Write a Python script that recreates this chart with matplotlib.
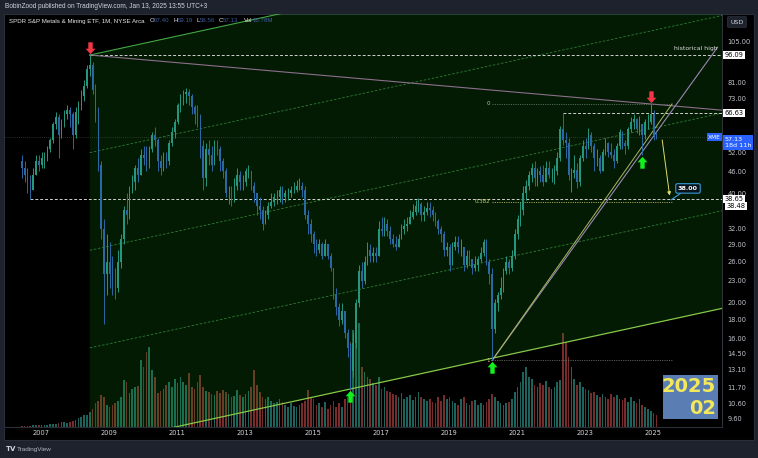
import numpy as np
import matplotlib.pyplot as plt
from matplotlib.path import Path
from matplotlib.patches import Rectangle

# XME monthly candles, May 2006 .. Jan 2025
closes = [
    47, 45, 43, 41, 45, 49, 48, 50,                                   # 2006 May-Dec
    50, 53, 56, 62, 65, 58, 63, 66, 68, 66, 58, 67,                   # 2007
    70, 74, 79, 88, 90, 77, 66, 48, 32, 24, 26, 24,                   # 2008
    23, 22, 26, 30, 36, 35, 41, 43, 47, 45, 51, 50,                   # 2009
    49, 53, 58, 56, 49, 47, 51, 49, 55, 59, 63, 70,                   # 2010
    73, 75, 76, 74, 69, 66, 65, 54, 44, 53, 51, 48,                   # 2011
    54, 53, 49, 46, 40, 40, 39, 42, 45, 43, 43, 46,                   # 2012
    46, 42, 40, 37, 36, 33, 35, 37, 38, 39, 39, 41,                   # 2013
    39, 40, 40, 41, 41, 42, 42, 41, 35, 33, 31, 29,                   # 2014
    28, 29, 27, 29, 27, 25, 21, 19.5, 18, 19, 16.5, 15,               # 2015
    13, 15.5, 20, 24.5, 23, 26, 28, 27, 27.5, 27, 32, 31.5,           # 2016
    33, 31.5, 30, 29, 28.5, 30, 32, 32.5, 33, 34.5, 35.5, 37,         # 2017
    37.5, 35, 35.5, 36.5, 36, 35, 33.5, 32, 31, 28, 28.5, 25.5,       # 2018
    28.5, 29.5, 28.5, 28.5, 25.5, 27, 26.5, 25, 25.5, 26.5, 27.5, 29.5,  # 2019
    26, 24, 17, 20, 21, 22, 24.5, 26, 25, 27, 31, 34,                 # 2020
    36, 40, 42, 45, 47, 44, 46, 45, 43, 47, 45, 45,                   # 2021
    46, 50, 60, 56, 55, 45, 45.5, 46.5, 43, 50, 54, 53,               # 2022
    58, 54, 50, 50, 46, 52, 55, 52, 51, 49, 54, 59,                   # 2023
    55, 54, 60, 63, 64, 60, 62, 58, 63, 63, 66, 57.4,                 # 2024
    57.13,                                                            # 2025 Jan
]
highs = [
    51, 49, 47, 45, 47, 51, 51, 52,
    52, 54, 57, 63, 67, 66, 64, 68, 70, 69, 67, 69,
    72, 77, 82, 90, 96.09, 92, 80, 69, 49, 34, 31, 29.5,
    27, 25, 28, 31, 37, 40, 42, 45, 48, 50, 53, 54,
    54, 54, 59, 61, 57, 51, 52, 52, 56, 61, 64, 71,
    75, 77, 78, 77.5, 75, 70, 70, 66, 56, 55, 56, 54,
    56, 56, 54, 50, 47, 42, 42, 44, 47, 46, 45, 47,
    48, 46, 43, 40, 39, 37, 36, 38, 40, 40, 41, 42,
    42, 41, 41.5, 42, 43, 43.5, 44, 43, 42, 36, 34, 31.5,
    30, 30, 29.5, 30, 29, 27.5, 25, 22, 20, 20, 19, 17,
    15.5, 16.5, 20.5, 25.5, 26, 27, 29.5, 29, 28.5, 28.5, 33.5, 34.5,
    34.5, 34, 32.5, 31, 30.5, 31, 33, 34, 34.5, 36, 37.5, 38.5,
    38.9, 38, 37, 38, 38, 37, 35.5, 34, 32.5, 31.5, 29.5, 29,
    29.5, 30.5, 30.5, 30, 28.5, 28, 28, 26.5, 27, 27, 28.5, 30,
    30, 26.5, 25, 20.5, 21.5, 23.5, 25, 27, 26.5, 28, 32, 35,
    38, 42, 43.5, 46, 48.5, 49, 47, 47.5, 48, 49, 49, 47,
    48, 52, 61.5, 66.63, 59, 57, 47, 51, 48.5, 51, 56, 57,
    60.5, 59, 55, 53, 51, 53, 57, 55.5, 55, 53, 55, 60,
    59.5, 56, 61, 65, 66, 64.5, 65.5, 62, 64, 66, 70.5, 68,
    59.19,
]
lows = [
    44, 43, 40, 38.65, 41, 45, 46, 47,
    47, 49, 52, 55, 60, 50, 57, 61, 64, 61, 53, 57,
    62, 68, 72, 78, 84, 75, 63, 46, 30, 17.5, 21, 22,
    21, 20.5, 21.5, 25, 29, 33, 34, 40, 41, 43, 45, 48,
    46, 47, 52, 54, 46, 45, 46, 47, 48, 54, 57, 62,
    67, 70, 71, 70, 66, 62, 61, 50, 41, 42, 48, 46,
    48, 51, 46, 44, 39, 37.5, 37, 38, 41, 41, 41, 42,
    44, 41, 38, 35, 34, 31.8, 33, 34, 36.5, 37, 37.5, 38,
    37.5, 38, 38.5, 39, 40, 40.5, 41, 39, 34, 31, 29.5, 27.5,
    27, 27.5, 26.5, 27, 26.5, 24.5, 20.5, 18.5, 17.3, 17.5, 16, 14.2,
    11.6, 12.5, 15, 19.5, 22, 22.5, 25.5, 26, 26, 26, 27, 30.5,
    30.5, 30.5, 29, 28.5, 28, 28.5, 30, 31, 31.5, 33, 34, 35,
    35.5, 33.5, 33.5, 35, 34.5, 33.5, 32.5, 31, 29.5, 27, 27, 24.5,
    25.5, 28, 27.5, 27, 24.5, 25, 25.5, 24, 24.5, 24.5, 26, 27,
    25.5, 22.5, 13.9, 16.5, 19, 20.5, 21.5, 24, 24, 24.5, 26.5, 30,
    32.5, 35, 38.5, 41, 43, 42, 42, 43, 42, 43, 44, 43,
    42.5, 45, 49, 54.5, 50, 43.5, 40.5, 44, 41.5, 42, 49, 50,
    53, 52, 46, 47.5, 45.5, 46, 51, 50.5, 50, 47, 48.5, 53,
    53, 51.5, 53, 59, 60, 58.5, 58, 51, 56.5, 60, 62, 56,
    56.56,
]
first_open = 49
volumes = [
    1, 1, 1, 1, 2, 2, 2, 2,
    2, 2, 3, 3, 3, 4, 5, 5, 4, 5, 6, 7,
    9, 10, 12, 12, 15, 18, 24, 26, 32, 30, 22, 20,
    22, 24, 26, 30, 47, 45, 34, 38, 40, 41, 67, 60,
    75, 80, 57, 50, 34, 36, 38, 42, 45, 40, 48, 44,
    50, 45, 42, 54, 40, 38, 45, 52, 40, 36, 35, 33,
    32, 36, 34, 37, 35, 33, 30, 31, 37, 32, 30, 33,
    36, 40, 57, 42, 35, 30, 28, 30, 26, 24, 25, 28,
    25, 22, 20, 24, 21, 20, 22, 24, 26, 37, 30, 28,
    22, 24, 20, 25, 18, 22, 26, 20, 24, 20, 28, 30,
    85, 97, 90, 104, 60, 55, 50, 48, 44, 42, 50, 38,
    40, 36, 35, 33, 32, 30, 34, 28, 30, 32, 27, 30,
    35, 30, 28, 26, 28, 25, 24, 30, 26, 32, 28, 30,
    26, 24, 22, 28, 30, 24, 22, 26, 27, 22, 24, 22,
    25, 28, 33, 30, 26, 24, 22, 24, 25, 28, 35, 40,
    45, 55, 60, 50, 48, 42, 40, 44, 42, 46, 40, 38,
    40, 45, 47, 94, 85, 70, 60, 48, 42, 45, 40, 38,
    37, 34, 35, 32, 30, 33, 30, 28, 33, 30, 32, 28,
    27, 29, 25, 30, 26, 24, 28, 22, 20, 18, 16, 14,
    12,
]

price_ticks = [105, 81, 73, 52, 46, 40, 32, 29, 26, 23, 20, 18, 16, 14.5, 13.1, 11.7, 10.6, 9.6]
year_ticks = list(range(2007, 2026, 2))
hist_high = 96.09
level_6663 = 66.63
level_3865 = 38.65
level_3848 = 38.48
last_price = 57.13
target_price = 38.00
channel_slope = 0.0467          # log-price per year
fib_end = 2025.46
trend_2020_end = (2026.8, 101.0)
target_arrow = [(2025.16, 57.13), (2025.40, 38.8)]
legend_parts = [('SPDR S&P Metals & Mining ETF, 1M, NYSE Arca', '#e8e8e8', 5),
                ('O', '#e8e8e8', 0), ('57.40', '#3e5c9c', 3.5),
                ('H', '#e8e8e8', 0), ('59.19', '#3e5c9c', 3.5),
                ('L', '#e8e8e8', 0), ('56.56', '#3e5c9c', 3.5),
                ('C', '#e8e8e8', 0), ('57.13', '#3e5c9c', 5),
                ('Vol', '#e8e8e8', 1), ('18.78M', '#3e5c9c', 0)]

# ---------------------------------------------------------------
c = np.array(closes, float)
h = np.array(highs, float)
l = np.array(lows, float)
o = np.concatenate([[first_open], c[:-1]])
v = np.array(volumes, float)
t = 2006 + 4 / 12 + np.arange(len(c)) / 12
up = c >= o

W, H = 758, 458
fig = plt.figure(figsize=(W / 100, H / 100), dpi=100)
fig.patch.set_facecolor('#1e222d')

def fx(x):
    return x / W

def fy(y):
    return 1 - y / H

fig.add_artist(Rectangle((fx(4), fy(440)), 750 / W, 426 / H, transform=fig.transFigure,
                         fc='black', ec='#2a2e39', lw=0.8, zorder=-10))

rect = [fx(4), fy(427), 718 / W, 413 / H]
axv = fig.add_axes(rect, zorder=1)
ax = fig.add_axes(rect, zorder=2)
ax.patch.set_visible(False)

xmin, xmax = 2005.81, 2026.93
ymin, ymax = 9.12, 124.6

# volume
axv.bar(t, v, width=0.05, color=np.where(up, '#1d635c', '#772b2b'), lw=0)
axv.set_xlim(xmin, xmax)
axv.set_ylim(0, 413)
axv.axis('off')

ax.set_yscale('log')
ax.set_xlim(xmin, xmax)
ax.set_ylim(ymin, ymax)

# trend channel: base on 2016 low, parallel through 2008 high
i_pk = int(np.argmax(h))
i16 = int(np.argmin(np.where(t < 2018, l, 1e9)))
i20 = int(np.argmin(np.where(t > 2019, l, 1e9)))
i24 = int(np.argmax(np.where(t > 2024, h, 0)))
i24l = int(np.argmin(np.where(t > 2024.4, l, 1e9)))

tt = np.linspace(t[i_pk], xmax, 300)
lo_line = np.log(l[i16]) + channel_slope * (tt - t[i16])
hi_line = np.log(h[i_pk]) + channel_slope * (tt - t[i_pk])
ax.fill_between(tt, np.exp(lo_line), np.exp(hi_line), color='#12a012', alpha=0.17, lw=0, zorder=1)
ax.plot(tt, np.exp(hi_line), color='#43a843', lw=0.8, zorder=2)
ax.plot(tt, np.exp(lo_line), color='#86c84a', lw=0.9, zorder=2)
for q in (0.25, 0.5, 0.75):
    ax.plot(tt, np.exp(lo_line + q * (hi_line - lo_line)), color='#2f7f35', lw=0.6,
            ls=(0, (3, 2)), zorder=2)

# horizontal levels
dash = (0, (3, 2))
ax.hlines(hist_high, t[i_pk], xmax, color='#d0d0d0', lw=0.7, ls=dash, zorder=2)
i06 = int(np.argmin(np.where(t < 2007, l, 1e9)))
ax.hlines(level_3865, t[i06], xmax, color='#d0d0d0', lw=0.7, ls=dash, zorder=2)
i22 = int(np.argmax(np.where((t > 2021) & (t < 2023), h, 0)))
ax.hlines(level_6663, t[i22], xmax, color='#d0d0d0', lw=0.7, ls=dash, zorder=2)
ax.axhline(last_price, color='#4d5a50', lw=0.5, ls=(0, (1, 2)), zorder=2)
ax.text(xmax - 0.12, hist_high * 1.045, 'historical high', color='#e0e0e0', fontsize=4.4,
        ha='right', va='center', zorder=5)

# line from 2008 peak through 2024 high
k = (np.log(h[i24]) - np.log(h[i_pk])) / (t[i24] - t[i_pk])
ax.plot([t[i_pk], xmax], [h[i_pk], np.exp(np.log(h[i_pk]) + k * (xmax - t[i_pk]))],
        color='#8c6f8c', lw=0.8, zorder=2)

# fib levels 2020 low -> 2024 high (log)
f0, f1 = np.log(h[i24]), np.log(l[i20])
for lev, col, lab in [(0, '#6f7a6f', '0'), (0.382, '#c9c96a', '0.382'), (1, '#6f7a6f', '1')]:
    p = np.exp(f0 - lev * (f0 - f1))
    ax.hlines(p, t[i20], fib_end, color=col, lw=0.55, ls=(0, (1.5, 1.5)), zorder=2)
    ax.text(t[i20] - 0.06, p, lab, color='#c9c96a', fontsize=4, ha='right', va='center', zorder=5)

# rising lines from 2020 low
ax.plot([t[i20], trend_2020_end[0]], [l[i20], trend_2020_end[1]], color='#9a86b4', lw=0.8, zorder=2)
ax.plot([t[i20], fib_end], [l[i20], h[i24]], color='#a9b85e', lw=0.7, zorder=2)

# candles
colors = np.where(up, '#26977e', '#2c68a6')
ax.vlines(t, l, h, colors=colors, lw=0.7, zorder=3)
ax.bar(t, np.abs(c - o) + 0.001, bottom=np.minimum(o, c), width=0.045, color=colors, lw=0, zorder=3)

# arrows
def block_arrow(down=True):
    pts = [(-0.2, 1.2), (0.2, 1.2), (0.2, 0.62), (0.45, 0.62), (0.0, 0.12), (-0.45, 0.62),
           (-0.2, 0.62), (-0.2, 1.2)]
    if not down:
        pts = [(x, -y) for x, y in pts]
    return Path(pts, closed=True)

for i in (i_pk, i24):
    ax.plot(t[i], h[i], marker=block_arrow(True), ms=19, color='#f23645', mec='none', zorder=6)
for i in (i16, i20, i24l):
    ax.plot(t[i], l[i], marker=block_arrow(False), ms=19, color='#14f01e', mec='none', zorder=6)

# projected move to target
(xa, ya), (xb, yb) = target_arrow
ax.annotate('', xy=(xb, yb), xytext=(xa, ya),
            arrowprops=dict(arrowstyle='-|>', color='#e2dc6a', lw=0.7, mutation_scale=5), zorder=5)
ax.annotate(f'{target_price:.2f}', xy=(xb + 0.03, yb * 0.99), xytext=(2025.93, 41.3),
            color='white', fontsize=4.6, fontweight='bold', ha='center', va='center', zorder=6,
            bbox=dict(boxstyle='round,pad=0.35,rounding_size=0.25', fc='#08131c', ec='#3a9ad8', lw=0.8),
            arrowprops=dict(arrowstyle='-', color='#3a9ad8', lw=0.8, shrinkA=0, shrinkB=0))

# axes styling
for s in ax.spines.values():
    s.set_visible(False)
ax.spines['right'].set_visible(True)
ax.spines['right'].set_color('#3a3e48')
ax.spines['right'].set_linewidth(0.6)
ax.spines['bottom'].set_visible(True)
ax.spines['bottom'].set_color('#2a2e39')
ax.yaxis.tick_right()
ax.set_yticks(price_ticks)
ax.set_yticklabels([f'{p:.2f}' for p in price_ticks])
ax.yaxis.set_minor_locator(plt.NullLocator())
ax.set_xticks([y - 0.1 for y in year_ticks])
ax.set_xticklabels([str(y) for y in year_ticks])
ax.tick_params(axis='y', length=0, pad=4, labelsize=4.8, labelcolor='#c0c3cb')
ax.tick_params(axis='x', length=0, pad=2.5, labelsize=4.8, labelcolor='#d1d4dc')

# price axis tags
ytr = ax.get_yaxis_transform()
tag = dict(boxstyle='square,pad=0.2', fc='white', ec='none')
for p in (hist_high, level_6663, level_3865):
    ax.text(1.0035, p, f'{p:.2f}', transform=ytr, fontsize=4.8, color='black', ha='left',
            va='center', zorder=7, bbox=tag)
fig.text(fx(726.5), fy(206), f'{level_3848:.2f}', fontsize=4.8, color='black', ha='left',
         va='center', zorder=7, bbox=tag)
ax.text(1.0035, last_price, f'{last_price:.2f}\n18d 11h', transform=ytr, fontsize=4.6,
        color='white', ha='left', va='top', linespacing=1.25, zorder=7,
        bbox=dict(boxstyle='square,pad=0.3', fc='#2962ff', ec='none'))
ax.text(0.9985, last_price, 'XME', transform=ytr, fontsize=4.2, color='white', ha='right',
        va='center', zorder=7, bbox=dict(boxstyle='square,pad=0.25', fc='#2962ff', ec='none'))

# header, legend, footer
fig.text(fx(5), fy(6.5), 'BobinZood published on TradingView.com, Jan 13, 2025 13:55 UTC+3',
         fontsize=4.7, family='Liberation Sans', color='#d1d4dc', va='center')
renderer = fig.canvas.get_renderer()
x = 9
for s, col, gap in legend_parts:
    txt = fig.text(fx(x), fy(21), s, fontsize=4.4, family='Liberation Sans', color=col,
                   va='center', zorder=8)
    x = txt.get_window_extent(renderer).x1 + gap
fig.text(fx(737), fy(22), 'USD', fontsize=4.6, color='#d1d4dc', ha='center', va='center', zorder=8,
         bbox=dict(boxstyle='round,pad=0.45,rounding_size=0.2', fc='#1e222d', ec='#2a2e39', lw=0.6))
fig.text(fx(6), fy(449), 'TV', fontsize=5, color='#d1d4dc', fontweight='bold', va='center')
fig.text(fx(17), fy(449), 'TradingView', fontsize=4.6, family='Liberation Sans', color='#b2b5be',
         va='center')

# date badge
fig.add_artist(Rectangle((fx(663), fy(419)), 55 / W, 44 / H, transform=fig.transFigure,
                         fc='#5a7db3', ec='none', zorder=8))
fig.text(fx(716), fy(386), '2025', fontsize=14, fontweight='bold', color='#f2e85a',
         ha='right', va='center', zorder=9)
fig.text(fx(716), fy(408), '02', fontsize=14, fontweight='bold', color='#f2e85a',
         ha='right', va='center', zorder=9)

fig.savefig('out.png', dpi=100, facecolor=fig.get_facecolor())
